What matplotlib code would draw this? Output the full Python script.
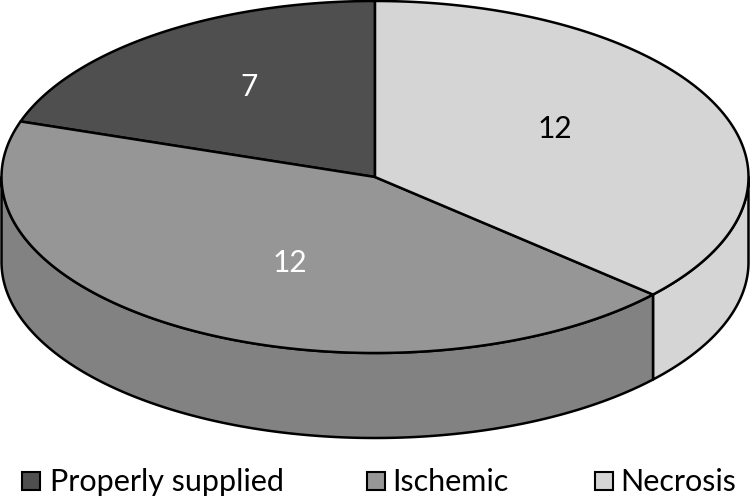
import numpy as np
import matplotlib
matplotlib.use("Agg")
import matplotlib.pyplot as plt
from matplotlib.patches import Polygon, Rectangle

# Categories, printed counts, and slice spans (degrees)
categories = ["Properly supplied", "Ischemic", "Necrosis"]
counts = [7, 12, 12]
spans_deg = [71.6, 156.5, 131.9]

colors = {"Properly supplied": "#4f4f4f", "Ischemic": "#969696", "Necrosis": "#d5d5d5"}
side_colors = {"Ischemic": "#828282", "Necrosis": "#d5d5d5"}
label_colors = ["white", "white", "black"]
label_pos = [(249, 87), (290, 263), (555, 129)]
legend_x = [(21, 50), (366, 392.5), (594, 620.5)]

cx, cy, rx, ry, depth = 375, 177, 373.5, 176, 85
plt.rcParams["font.family"] = ["Lato", "DejaVu Sans"]

fig = plt.figure(figsize=(7.5, 4.99), dpi=100)
ax = fig.add_axes([0, 0, 1, 1])
ax.set_xlim(0, 750)
ax.set_ylim(499, 0)
ax.axis("off")


def arc(a0, a1, dy=0.0):
    t = np.radians(np.linspace(a0, a1, 300))
    return np.column_stack([cx + rx * np.cos(t), cy + dy - ry * np.sin(t)])


# Slices run clockwise from the top: necrosis, ischemic, properly supplied
order = [2, 1, 0]
start = 90.0
bounds = {}
for i in order:
    bounds[categories[i]] = (start, start - spans_deg[i])
    start -= spans_deg[i]

lw = 1.8
# Side wall: only the front half (angles 0 to -180) is visible
for name in ["Necrosis", "Ischemic"]:
    a0, a1 = bounds[name]
    a0, a1 = min(a0, 0), max(a1, -180)
    top = arc(a0, a1)
    bot = arc(a1, a0, depth)
    ax.add_patch(Polygon(np.vstack([top, bot]), closed=True, fc=side_colors[name],
                         ec="black", lw=lw, joinstyle="round", zorder=2))

# Top face
for name in categories:
    a0, a1 = bounds[name]
    pts = np.vstack([[[cx, cy]], arc(a0, a1)])
    ax.add_patch(Polygon(pts, closed=True, fc=colors[name], ec="black", lw=lw,
                         joinstyle="round", zorder=3))

for n, p, c in zip(counts, label_pos, label_colors):
    ax.text(p[0], p[1], str(n), color=c, fontsize=21.5, ha="center", va="center", zorder=4)

for name, (sx, tx) in zip(categories, legend_x):
    ax.add_patch(Rectangle((sx + 1, 472), 18, 18, fc=colors[name], ec="black", lw=1.5))
    ax.text(tx, 482, name, fontsize=22, ha="left", va="center", color="black")

fig.savefig("out.png", dpi=100)
